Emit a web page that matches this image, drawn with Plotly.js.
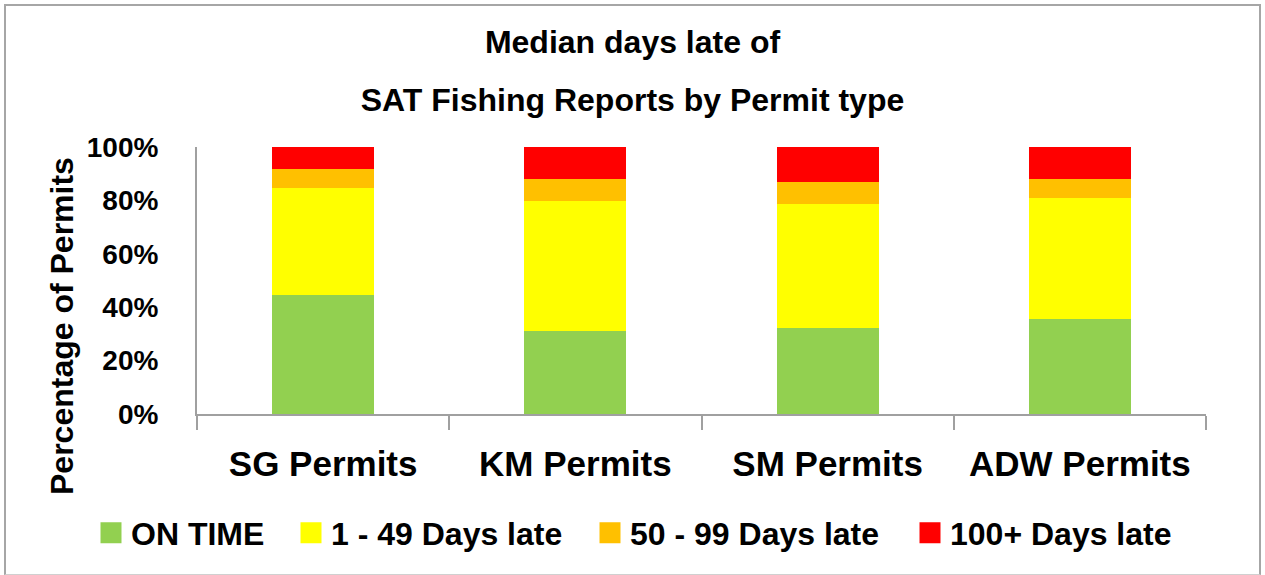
<!DOCTYPE html>
<html><head><meta charset="utf-8">
<script src="https://cdn.plot.ly/plotly-3.0.1.min.js"></script>
<style>
html,body{margin:0;padding:0;background:#fff}
#chart{width:1265px;height:575px;}
#frame{position:absolute;left:4px;top:4px;width:1257px;height:571px;border:2px solid #a6a6a6;border-bottom:1px solid #d0d0d0;pointer-events:none;box-sizing:border-box}
</style></head><body>
<div id="chart"></div><div id="frame"></div>
<script>
const categories = ['SG Permits', 'KM Permits', 'SM Permits', 'ADW Permits'];
const seriesNames = ['ON TIME', '1 - 49 Days late', '50 - 99 Days late', '100+ Days late'];
const onTime = [44.4, 31.0, 32.2, 35.5];
const late1to49 = [40.4, 48.8, 46.6, 45.3];
const late50to99 = [7.0, 8.2, 8.2, 7.3];
const late100plus = [8.2, 12.0, 13.0, 11.9];
const yTickVals = [0, 20, 40, 60, 80, 100];
const yTickText = ['0%', '20%', '40%', '60%', '80%', '100%'];
const colors = ['#92d050', '#ffff00', '#ffc000', '#ff0000'];

const FONT = 'Liberation Sans, Arial, sans-serif';
const seriesValues = [onTime, late1to49, late50to99, late100plus];

const L = 197, R = 59, T = 147, B = 161;
const pw = 1265 - L - R, ph = 575 - T - B;
const px2x = p => (p - L) / pw;
const py2y = p => (575 - B - p) / ph;

const legendNames = ['legend', 'legend2', 'legend3', 'legend4'];
const legendLeftPx = [91, 291, 590, 910];

const traces = [];
seriesValues.forEach((vals, i) => {
  traces.push({
    type: 'bar', x: categories, y: vals, name: seriesNames[i],
    marker: {color: colors[i]}, showlegend: false, hoverinfo: 'x+y+name'
  });
});
seriesValues.forEach((vals, i) => {
  traces.push({
    type: 'scatter', mode: 'markers', x: [null], y: [null], name: seriesNames[i],
    marker: {symbol: 'square', size: 16, color: colors[i], line: {color: colors[i], width: 5}},
    showlegend: true, hoverinfo: 'skip', legend: legendNames[i]
  });
});

const layout = {
  width: 1265, height: 575,
  margin: {l: L, r: R, t: T, b: B, pad: 0},
  paper_bgcolor: '#ffffff', plot_bgcolor: '#ffffff',
  font: {family: FONT, color: '#000000'},
  barmode: 'stack', bargap: 0.595,
  title: {
    text: '<b>Median days late of</b>',
    font: {family: FONT, size: 32, color: '#000'},
    subtitle: {text: '<b>SAT Fishing Reports by Permit type</b>', font: {family: FONT, size: 32, color: '#000'}},
    x: 0.5, xanchor: 'center', xref: 'container',
    y: 1 - 53 / 575, yanchor: 'bottom', yref: 'container'
  },
  xaxis: {
    type: 'category', showline: true, linecolor: '#a0a0a0', linewidth: 2,
    ticks: 'outside', tickson: 'boundaries', ticklen: 14, tickcolor: '#a0a0a0', tickwidth: 2,
    showgrid: false, zeroline: false,
    tickfont: {family: FONT, size: 35, color: '#000', weight: 'bold'},
    ticklabelstandoff: 18
  },
  yaxis: {
    range: [0, 100], tickvals: yTickVals, ticktext: yTickText,
    showline: true, linecolor: '#a0a0a0', linewidth: 2,
    ticks: '', showgrid: false, zeroline: false,
    tickfont: {family: FONT, size: 28, color: '#000', weight: 'bold'},
    ticklabelstandoff: 31
  },
  annotations: [{
    text: '<b>Percentage of Permits</b>', textangle: -90,
    xref: 'paper', yref: 'paper', x: px2x(62), y: py2y(326),
    xanchor: 'center', yanchor: 'middle', showarrow: false,
    font: {family: FONT, size: 32, color: '#000'}
  }],
  showlegend: true
};
legendNames.forEach((ln, i) => {
  layout[ln] = {
    orientation: 'h', x: px2x(legendLeftPx[i]), xanchor: 'left', y: py2y(533), yanchor: 'middle',
    font: {family: FONT, size: 32, color: '#000', weight: 'bold'},
    itemclick: false, itemdoubleclick: false, bgcolor: 'rgba(0,0,0,0)'
  };
});

Plotly.newPlot('chart', traces, layout, {displayModeBar: false, staticPlot: true});
</script>
</body></html>
